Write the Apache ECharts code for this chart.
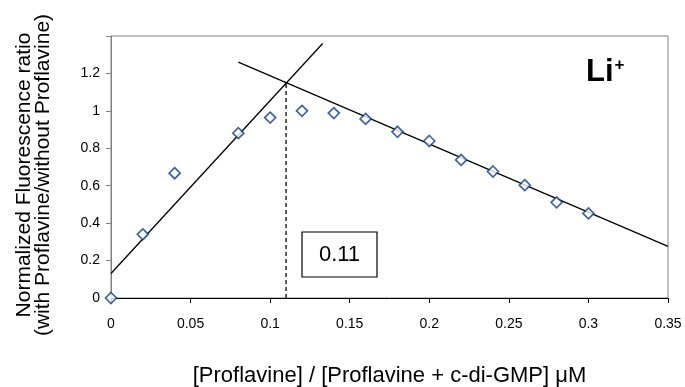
<!DOCTYPE html>
<html>
<head>
<meta charset="utf-8">
<script src="https://cdn.jsdelivr.net/npm/echarts@6/dist/echarts.min.js"></script>
<style>
  html, body { margin: 0; padding: 0; background: #fff; }
  #chart { width: 685px; height: 387px; }
</style>
</head>
<body>
<div id="chart"></div>
<script>
  'use strict';

  // measured points
  var ratioX = [0, 0.02, 0.04, 0.08, 0.10, 0.12, 0.14, 0.16, 0.18, 0.20, 0.22, 0.24, 0.26, 0.28, 0.30];
  var ratioY = [0, 0.34, 0.667, 0.881, 0.964, 1.0, 0.988, 0.957, 0.888, 0.839, 0.738, 0.676, 0.603, 0.511, 0.452];

  // fitted lines
  var riseLine = [[0, 0.131], [0.133, 1.36]];
  var fallLine = [[0.08, 1.26], [0.35, 0.276]];
  var crossLine = [[0.11, 0], [0.11, 1.15]];

  var fontName = 'Liberation Sans, Arial, sans-serif';

  var points = ratioX.map(function (x, i) { return [x, ratioY[i]]; });

  var myChart = echarts.init(document.getElementById('chart'));
  var options = {
    animation: false,
    grid: {
      left: 111, right: 17, top: 36, bottom: 89,
      containLabel: false,
      outerBoundsMode: 'none',
      show: true,
      borderColor: '#808080',
      borderWidth: 1
    },
    xAxis: {
      type: 'value',
      min: 0, max: 0.35, interval: 0.05,
      splitLine: { show: false },
      axisLine: { lineStyle: { color: '#000', width: 1 } },
      axisTick: { inside: false, length: 5, lineStyle: { color: '#000' } },
      axisLabel: { color: '#000', fontFamily: fontName, fontSize: 14, margin: 19 },
      name: '[Proflavine] / [Proflavine + c-di-GMP] μM',
      nameLocation: 'middle',
      nameGap: 67,
      nameTextStyle: { color: '#000', fontFamily: fontName, fontSize: 22 }
    },
    yAxis: {
      type: 'value',
      min: 0, max: 1.4, interval: 0.2,
      splitLine: { show: false },
      axisLine: { show: true, lineStyle: { color: '#808080', width: 1 } },
      axisTick: { show: true, length: 5, lineStyle: { color: '#808080' } },
      axisLabel: {
        color: '#000', fontFamily: fontName, fontSize: 14, margin: 11,
        formatter: function (v) { return v > 1.3 ? '' : String(Math.round(v * 10) / 10); }
      },
      name: 'Normalized Fluorescence ratio\n(with Proflavine/without Proflavine)',
      nameLocation: 'middle',
      nameGap: 58,
      nameTextStyle: {
        color: '#000', fontFamily: fontName, fontSize: 21, lineHeight: 19,
        padding: [0, 16, 0, 0]
      }
    },
    series: [
      {
        type: 'line',
        data: riseLine,
        symbol: 'none',
        lineStyle: { color: '#000', width: 1.3 },
        z: 2
      },
      {
        type: 'line',
        data: fallLine,
        symbol: 'none',
        lineStyle: { color: '#000', width: 1.3 },
        z: 2
      },
      {
        type: 'line',
        data: crossLine,
        symbol: 'none',
        lineStyle: { color: '#000', width: 1.3, type: [4, 3] },
        z: 2
      },
      {
        type: 'scatter',
        data: points,
        symbol: 'diamond',
        symbolSize: 11,
        itemStyle: { color: '#fff', borderColor: '#0f3f80', borderWidth: 1.7 },
        z: 5
      }
    ],
    graphic: [
      {
        type: 'rect',
        shape: { x: 302, y: 232, width: 75, height: 45 },
        style: { fill: '#fff', stroke: '#000', lineWidth: 1.2 },
        z: 10
      },
      {
        type: 'text',
        x: 339.5, y: 255,
        style: {
          text: '0.11', fill: '#000', font: '22px ' + fontName,
          align: 'center', verticalAlign: 'middle'
        },
        z: 11
      },
      {
        type: 'text',
        x: 586, y: 88,
        style: {
          text: '{b|Li}{s|+}',
          verticalAlign: 'bottom',
          rich: {
            b: { fontFamily: fontName, fontSize: 31, fontWeight: 'bold', fill: '#000', verticalAlign: 'bottom' },
            s: { fontFamily: fontName, fontSize: 17, fontWeight: 'bold', fill: '#000', verticalAlign: 'top', padding: [0, 0, 10, 1] }
          }
        },
        z: 11
      }
    ]
  };
  myChart.setOption(options);
</script>
</body>
</html>
